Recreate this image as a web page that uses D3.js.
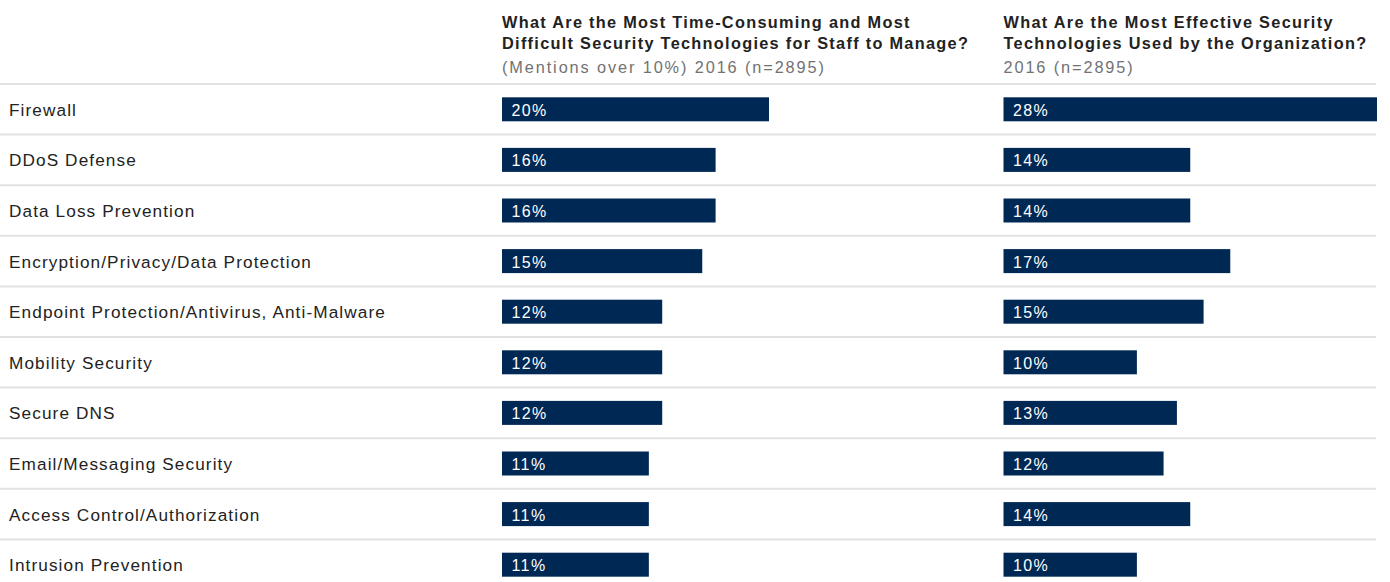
<!DOCTYPE html>
<html>
<head>
<meta charset="utf-8">
<script src="https://cdn.jsdelivr.net/npm/d3@7"></script>
<style>
  html, body { margin: 0; padding: 0; background: #fff; }
  svg { display: block; }
</style>
</head>
<body>
<svg id="chart" width="1390" height="582"></svg>
<script>
const categories = [
  "Firewall",
  "DDoS Defense",
  "Data Loss Prevention",
  "Encryption/Privacy/Data Protection",
  "Endpoint Protection/Antivirus, Anti-Malware",
  "Mobility Security",
  "Secure DNS",
  "Email/Messaging Security",
  "Access Control/Authorization",
  "Intrusion Prevention"
];
const difficultValues = [20, 16, 16, 15, 12, 12, 12, 11, 11, 11];
const effectiveValues = [28, 14, 14, 17, 15, 10, 13, 12, 14, 10];

const leftTitle = ["What Are the Most Time-Consuming and Most", "Difficult Security Technologies for Staff to Manage?"];
const leftSubtitle = "(Mentions over 10%) 2016 (n=2895)";
const rightTitle = ["What Are the Most Effective Security", "Technologies Used by the Organization?"];
const rightSubtitle = "2016 (n=2895)";

const svg = d3.select("#chart");
const font = "'Liberation Sans', Arial, sans-serif";
const navy = "#002855";

const y = d3.scaleBand().domain(categories).range([84, 84 + 50.6 * categories.length]).padding(0);
const xLeft = d3.scaleLinear().domain([0, 20]).range([502, 769]);
const xRight = d3.scaleLinear().domain([0, 28]).range([1003.5, 1377]);
const barH = 24;

// separators
svg.append("g").selectAll("line").data(categories).join("line")
  .attr("x1", 0).attr("x2", 1376)
  .attr("y1", d => y(d)).attr("y2", d => y(d))
  .attr("stroke", "#e0e2e2").attr("stroke-width", 2);

// category labels
svg.append("g").selectAll("text").data(categories).join("text")
  .attr("x", 9)
  .attr("y", d => y(d) + y.bandwidth() / 2 + 6.4)
  .attr("font-family", font).attr("font-size", 17.2)
  .attr("letter-spacing", 1.1)
  .attr("fill", "#222")
  .text(d => d);

function panel(values, x, title, subtitle) {
  const g = svg.append("g");
  const rows = categories.map((c, i) => ({ c, v: values[i] }));
  g.selectAll("rect").data(rows).join("rect")
    .attr("x", x(0))
    .attr("y", d => y(d.c) + y.bandwidth() / 2 - barH / 2)
    .attr("width", d => x(d.v) - x(0))
    .attr("height", barH)
    .attr("fill", navy);
  g.selectAll("text.v").data(rows).join("text")
    .attr("class", "v")
    .attr("x", x(0) + 9.5)
    .attr("y", d => y(d.c) + y.bandwidth() / 2 + 6.4)
    .attr("font-family", font).attr("font-size", 16)
    .attr("letter-spacing", 1.4)
    .attr("fill", "#fff")
    .text(d => d.v + "%");
  const t = g.append("text").attr("font-family", font).attr("font-size", 16.3)
    .attr("font-weight", "bold").attr("letter-spacing", 1.3).attr("fill", "#222");
  title.forEach((line, i) => {
    t.append("tspan").attr("x", x(0)).attr("y", 27.7 + i * 21.5).text(line);
  });
  g.append("text").attr("x", x(0)).attr("y", 72.7)
    .attr("font-family", font).attr("font-size", 16.3)
    .attr("letter-spacing", 1.9)
    .attr("fill", "#727272").text(subtitle);
}

panel(difficultValues, xLeft, leftTitle, leftSubtitle);
panel(effectiveValues, xRight, rightTitle, rightSubtitle);
</script>
</body>
</html>
